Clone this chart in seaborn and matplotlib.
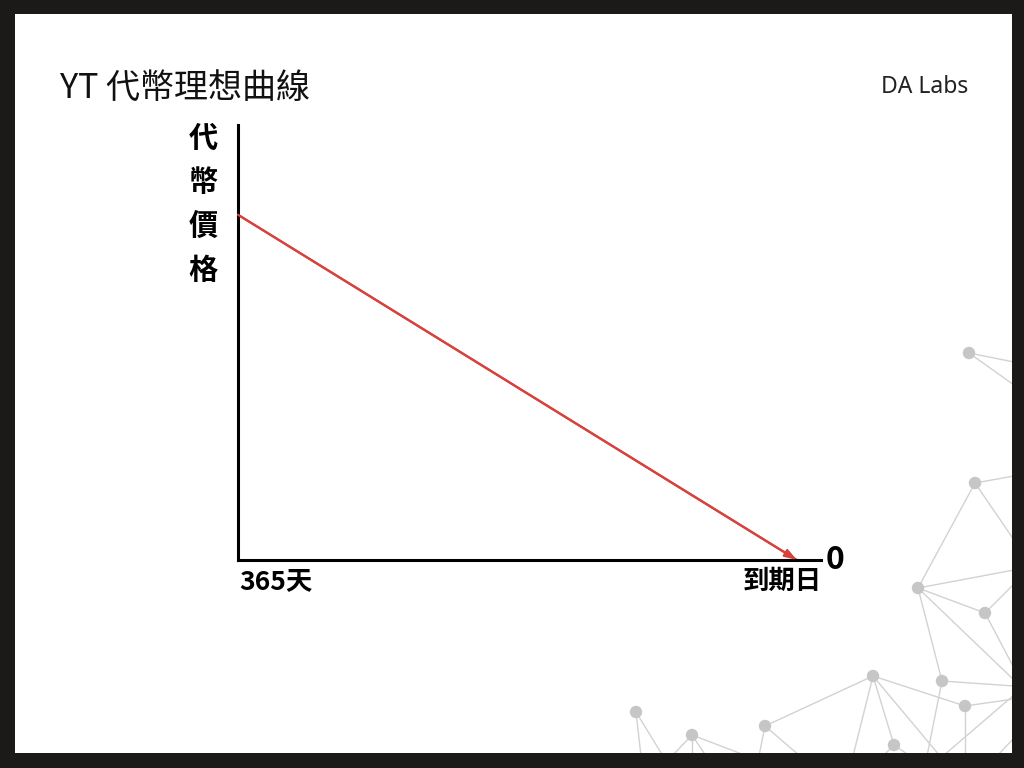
import matplotlib
matplotlib.use("Agg")
import matplotlib.pyplot as plt
import matplotlib.transforms as mtransforms
from matplotlib.patches import Rectangle
import pandas as pd
import seaborn as sns

# 曲線資料: 剩餘天數 -> 代幣價格 (相對值)
days_left = [365, 0]
yt_price = [1.0, 0.0]

title = "YT 代幣理想曲線"
brand = "DA Labs"
y_label = "代幣價格"
start_label = "365天"
end_label = "到期日"
zero_label = "0"

# 右下角網狀裝飾 (像素座標, 1024x768)
net_nodes = [(969, 353), (975, 483), (918, 588), (985, 613), (873, 676),
             (942, 681), (965, 706), (894, 745), (636, 712), (692, 735), (765, 726)]
net_edges = [
    ((969, 353), (1014, 362)), ((969, 353), (1014, 385)),
    ((975, 483), (1014, 476)), ((975, 483), (1014, 540)), ((975, 483), (918, 588)),
    ((918, 588), (1014, 570)), ((918, 588), (985, 613)), ((918, 588), (1014, 680)),
    ((918, 588), (942, 681)),
    ((985, 613), (1014, 584)), ((985, 613), (1014, 668)),
    ((873, 676), (765, 726)), ((873, 676), (965, 706)), ((873, 676), (894, 745)),
    ((873, 676), (853, 756)), ((873, 676), (940, 756)),
    ((942, 681), (1014, 686)), ((942, 681), (927, 756)),
    ((965, 706), (1014, 699)), ((965, 706), (965, 756)),
    ((1014, 695), (943, 756)), ((1014, 738), (997, 756)),
    ((894, 745), (883, 756)), ((894, 745), (910, 756)),
    ((636, 712), (641, 756)), ((636, 712), (663, 756)),
    ((692, 735), (672, 756)), ((692, 735), (692, 756)), ((692, 735), (706, 756)),
    ((692, 735), (747, 756)),
    ((765, 726), (759, 756)), ((765, 726), (800, 756)),
]

df = pd.DataFrame({"days": days_left, "price": yt_price})

sns.set_theme(style="white")
plt.rcParams["font.family"] = ["Noto Sans CJK TC", "DejaVu Sans"]

red = "#d8423c"
W, H = 1024, 768
fig = plt.figure(figsize=(W / 100, H / 100), dpi=100, facecolor="#1c1a18")

# 背景: 白色面板 + 網狀裝飾
bg = fig.add_axes([0, 0, 1, 1], zorder=0)
bg.set_xlim(0, W)
bg.set_ylim(H, 0)
bg.axis("off")
panel = Rectangle((15, 14), 1012 - 15, 753 - 14, facecolor="white", edgecolor="none")
bg.add_patch(panel)
for (x1, y1), (x2, y2) in net_edges:
    ln, = bg.plot([x1, x2], [y1, y2], color="#d2d2d2", lw=1.0, zorder=1)
    ln.set_clip_path(panel)
nx, ny = zip(*net_nodes)
bg.scatter(nx, ny, s=80, color="#c6c6c6", edgecolors="none", zorder=2)

# 主圖
ax = fig.add_axes([238 / W, 1 - 560 / H, (821 - 238) / W, (560 - 125) / H], zorder=2)
ax.patch.set_alpha(0)
sns.lineplot(data=df, x="days", y="price", ax=ax, color=red, lw=1.6)
ax.annotate("", xy=(days_left[-1], yt_price[-1]), xytext=(days_left[0], yt_price[0]),
            arrowprops=dict(arrowstyle="-|>,head_length=0.6,head_width=0.2",
                            color=red, lw=1.6, shrinkA=0, shrinkB=0),
            annotation_clip=False)
ax.set_xlim(365, -15.7)
ax.set_ylim(0, 1.26)
ax.set_xticks([])
ax.set_yticks([])
ax.set_xlabel("")
ax.set_ylabel("")
sns.despine(ax=ax)
for side in ["left", "bottom"]:
    ax.spines[side].set_color("black")
    ax.spines[side].set_linewidth(2.2)

blend = mtransforms.blended_transform_factory(ax.transAxes, ax.transData)
ax.text(0.003, -0.018, start_label, transform=ax.transAxes, ha="left", va="top",
        fontsize=19, fontweight="bold", color="black")
ax.text(1.002, -0.018, end_label, transform=ax.transAxes, ha="right", va="top",
        fontsize=19, fontweight="bold", color="black")
ax.text(1.008, 0.0, zero_label, transform=blend, ha="left", va="center",
        fontsize=23, fontweight="bold", color="black")

fig.text(203 / W, 1 - 204 / H, "\n".join(y_label), ha="center", va="center",
         fontsize=21, fontweight="bold", linespacing=1.58, color="black")

fig.text(60 / W, 1 - 88 / H, title, ha="left", va="center", fontsize=24.5,
         fontweight="medium", color="#111111")
fig.text(968 / W, 1 - 87 / H, brand, ha="right", va="center", fontsize=16.5,
         family=["Noto Sans", "DejaVu Sans"], color="#222222")

fig.savefig("out.png", dpi=100, facecolor=fig.get_facecolor())
